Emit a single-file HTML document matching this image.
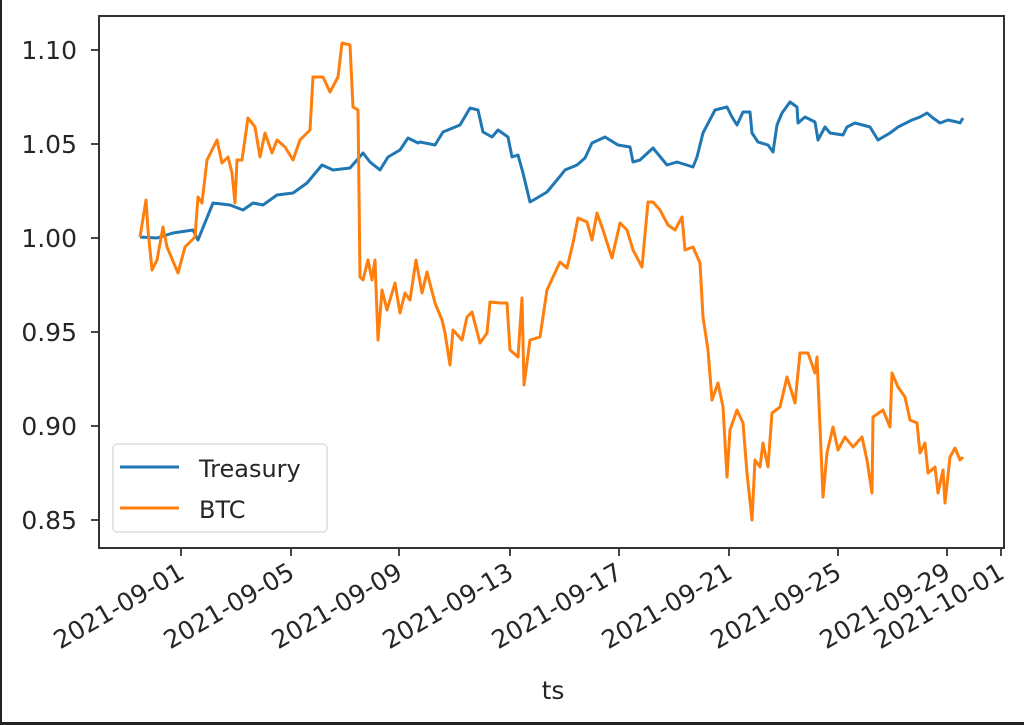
<!DOCTYPE html>
<html><head><meta charset="utf-8"><style>
html,body{margin:0;padding:0;background:#fff;}
svg{display:block;}
text{font-family:"DejaVu Sans","Liberation Sans",sans-serif;fill:#262626;}
</style></head><body>
<svg width="1024" height="725" viewBox="0 0 1024 725" xmlns="http://www.w3.org/2000/svg">
<rect x="0" y="0" width="1024" height="725" fill="#fff"/>
<rect x="0" y="0" width="2" height="725" fill="#222"/>
<rect x="0" y="722" width="1024" height="3" fill="#222"/>
<polyline fill="none" stroke="#1f77b4" stroke-width="3" stroke-linejoin="round" points="140,237 157,238 173,233 193,230 198,240 202,230 213,203 230,205 243,210 253,203 263,205 277,195 293,193 307,183 322,165 333,170 350,168 363,153 370,162 380,170 388,157 400,150 408,138 418,143 420,142 435,145 443,132 460,125 470,108 478,110 483,132 492,137 498,130 508,137 512,157 518,155 523,173 530,202 537,198 547,192 557,180 565,170 577,165 585,158 592,143 605,137 618,145 630,147 633,162 640,160 653,148 667,165 677,162 693,167 697,157 703,133 715,110 727,107 732,117 737,125 743,112 750,112 752,133 758,142 768,145 773,152 777,125 782,113 790,102 797,107 798,123 805,117 815,122 818,140 825,127 830,133 843,135 847,127 855,123 870,127 878,140 890,133 898,127 912,120 920,117 927,113 933,118 940,123 948,120 957,122 960,123 963,118"/>
<polyline fill="none" stroke="#ff7f0e" stroke-width="3" stroke-linejoin="round" points="140,237 146,200 148,230 152,270 157,260 163,227 167,247 178,273 185,247 195,237 198,197 202,203 207,160 217,140 222,163 228,157 232,173 235,203 237,160 242,160 248,118 255,127 260,157 265,133 272,153 277,140 285,147 293,160 300,140 310,130 313,77 323,77 330,92 338,77 342,43 350,45 353,107 358,110 360,277 363,280 368,260 372,280 375,260 378,340 382,290 387,310 395,283 400,313 405,293 410,300 416,260 422,293 427,272 435,303 442,320 445,333 450,365 453,330 462,340 467,317 472,312 480,343 487,333 490,302 500,303 507,303 510,350 518,357 522,298 524,385 530,340 540,337 547,290 553,277 560,262 567,268 573,243 578,218 587,222 592,240 597,213 603,230 612,258 620,223 627,230 633,250 642,267 648,202 653,202 660,210 668,225 675,230 682,217 685,250 693,247 700,263 703,317 708,350 712,400 718,383 723,407 727,477 730,430 737,410 743,423 747,473 752,520 755,460 760,467 763,443 768,467 772,413 780,407 787,377 795,403 800,353 808,353 815,373 817,357 823,497 827,453 833,427 838,450 845,437 853,447 862,437 867,460 872,493 873,417 883,410 890,427 892,373 898,387 905,397 910,420 917,423 920,453 925,443 928,473 935,467 938,493 943,470 945,503 950,457 955,448 960,460 963,457"/>
<rect x="99" y="16" width="905" height="532" fill="none" stroke="#333" stroke-width="2"/>
<g stroke="#333" stroke-width="1.8">
<line x1="91" y1="50" x2="99" y2="50"/><line x1="91" y1="144" x2="99" y2="144"/><line x1="91" y1="238" x2="99" y2="238"/><line x1="91" y1="332" x2="99" y2="332"/><line x1="91" y1="426" x2="99" y2="426"/><line x1="91" y1="520" x2="99" y2="520"/>
<line x1="181" y1="548" x2="181" y2="556"/><line x1="291" y1="548" x2="291" y2="556"/><line x1="399" y1="548" x2="399" y2="556"/><line x1="510" y1="548" x2="510" y2="556"/><line x1="619" y1="548" x2="619" y2="556"/><line x1="729" y1="548" x2="729" y2="556"/><line x1="838" y1="548" x2="838" y2="556"/><line x1="947" y1="548" x2="947" y2="556"/><line x1="1001" y1="548" x2="1001" y2="556"/>
</g>
<g font-size="25" text-anchor="end">
<text x="77" y="59">1.10</text><text x="77" y="153">1.05</text><text x="77" y="247">1.00</text><text x="77" y="341">0.95</text><text x="77" y="435">0.90</text><text x="77" y="529">0.85</text>
</g>
<g font-size="25" text-anchor="end">
<text transform="translate(186,577) rotate(-30)">2021-09-01</text>
<text transform="translate(296,577) rotate(-30)">2021-09-05</text>
<text transform="translate(404,577) rotate(-30)">2021-09-09</text>
<text transform="translate(515,577) rotate(-30)">2021-09-13</text>
<text transform="translate(624,577) rotate(-30)">2021-09-17</text>
<text transform="translate(734,577) rotate(-30)">2021-09-21</text>
<text transform="translate(843,577) rotate(-30)">2021-09-25</text>
<text transform="translate(952,577) rotate(-30)">2021-09-29</text>
<text transform="translate(1006,577) rotate(-30)">2021-10-01</text>
</g>
<text x="553" y="699" font-size="25" text-anchor="middle">ts</text>
<rect x="113" y="444" width="214" height="88" rx="4" fill="#fff" fill-opacity="0.85" stroke="#ddd" stroke-width="1.5"/>
<line x1="120" y1="467" x2="179" y2="467" stroke="#1f77b4" stroke-width="3"/>
<line x1="120" y1="508" x2="179" y2="508" stroke="#ff7f0e" stroke-width="3"/>
<text x="199" y="477" font-size="24">Treasury</text>
<text x="199" y="518" font-size="24">BTC</text>
</svg>
</body></html>
